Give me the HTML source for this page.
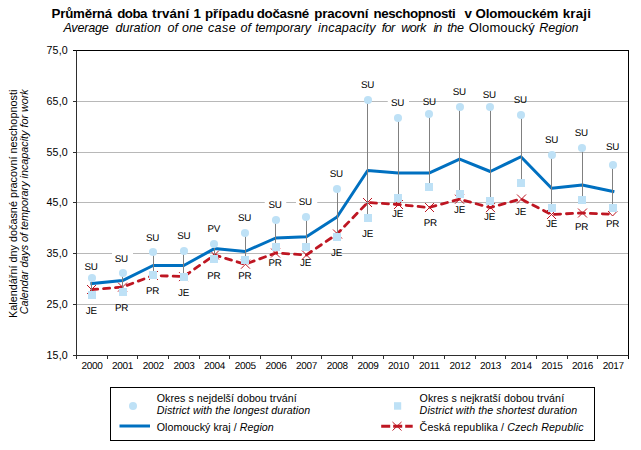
<!DOCTYPE html><html><head><meta charset="utf-8"><style>html,body{margin:0;padding:0;background:#fff}svg{display:block}text{font-family:"Liberation Sans",sans-serif;fill:#000}.g text{text-rendering:geometricPrecision}</style></head><body>
<svg width="641" height="450" viewBox="0 0 641 450">
<rect width="641" height="450" fill="#fff"/>
<text x="51.50" y="17.8" font-size="13.33" font-weight="bold" letter-spacing="-0.216">Průměrná</text>
<text x="117.30" y="17.8" font-size="13.33" font-weight="bold" letter-spacing="-0.575">doba</text>
<text x="152.10" y="17.8" font-size="13.33" font-weight="bold" letter-spacing="0.142">trvání</text>
<text x="193.60" y="17.8" font-size="13.33" font-weight="bold">1</text>
<text x="204.90" y="17.8" font-size="13.33" font-weight="bold" letter-spacing="0.062">případu</text>
<text x="256.70" y="17.8" font-size="13.33" font-weight="bold" letter-spacing="-0.260">dočasné</text>
<text x="314.20" y="17.8" font-size="13.33" font-weight="bold" letter-spacing="-0.178">pracovní</text>
<text x="373.60" y="17.8" font-size="13.33" font-weight="bold" letter-spacing="-0.412">neschopnosti</text>
<text x="464.50" y="17.8" font-size="13.33" font-weight="bold">v</text>
<text x="475.60" y="17.8" font-size="13.33" font-weight="bold" letter-spacing="-0.198">Olomouckém</text>
<text x="562.70" y="17.8" font-size="13.33" font-weight="bold" letter-spacing="0.221">kraji</text>
<text x="63.40" y="32.4" font-size="12.6" font-style="italic" letter-spacing="-0.229">Average</text>
<text x="115.40" y="32.4" font-size="12.6" font-style="italic">duration</text>
<text x="167.40" y="32.4" font-size="12.6" font-style="italic" letter-spacing="0.096">of</text>
<text x="182.10" y="32.4" font-size="12.6" font-style="italic">one</text>
<text x="207.90" y="32.4" font-size="12.6" font-style="italic" letter-spacing="0.434">case</text>
<text x="240.50" y="32.4" font-size="12.6" font-style="italic">of</text>
<text x="255.20" y="32.4" font-size="12.6" font-style="italic" letter-spacing="-0.099">temporary</text>
<text x="318.00" y="32.4" font-size="12.6" font-style="italic" letter-spacing="0.177">incapacity</text>
<text x="381.70" y="32.4" font-size="12.6" font-style="italic" letter-spacing="-0.601">for</text>
<text x="401.20" y="32.4" font-size="12.6" font-style="italic" letter-spacing="-0.531">work</text>
<text x="433.60" y="32.4" font-size="12.6" font-style="italic" letter-spacing="-1.198">in</text>
<text x="447.20" y="32.4" font-size="12.6" font-style="italic" letter-spacing="-0.351">the</text>
<text x="468.80" y="32.4" font-size="13.0" letter-spacing="0.123">Olomoucký</text>
<text x="539.30" y="32.4" font-size="12.6" font-style="italic" letter-spacing="-0.121">Region</text>
<line x1="76.5" y1="101.5" x2="628.5" y2="101.5" stroke="#b8b8b8" stroke-width="1"/>
<line x1="76.5" y1="152.5" x2="628.5" y2="152.5" stroke="#b8b8b8" stroke-width="1"/>
<line x1="76.5" y1="202.5" x2="628.5" y2="202.5" stroke="#b8b8b8" stroke-width="1"/>
<line x1="76.5" y1="253.5" x2="628.5" y2="253.5" stroke="#b8b8b8" stroke-width="1"/>
<line x1="76.5" y1="304.5" x2="628.5" y2="304.5" stroke="#b8b8b8" stroke-width="1"/>
<rect x="112" y="251.5" width="21" height="4" fill="#fff"/>
<rect x="264.75" y="200.5" width="21.5" height="4" fill="#fff"/>
<rect x="296" y="200.5" width="21.25" height="4" fill="#fff"/>
<rect x="387.75" y="99.5" width="21.25" height="4" fill="#fff"/>
<path d="M73.0 50.5H629.0M628.5 50.5V359.0" stroke="#000" stroke-width="1" fill="none"/>
<path d="M76.5 50.5V359.0M73.0 355.5H628.5" stroke="#2e2e2e" stroke-width="1" fill="none"/>
<line x1="73.0" y1="101.5" x2="76.5" y2="101.5" stroke="#2e2e2e" stroke-width="1"/>
<line x1="73.0" y1="152.5" x2="76.5" y2="152.5" stroke="#2e2e2e" stroke-width="1"/>
<line x1="73.0" y1="202.5" x2="76.5" y2="202.5" stroke="#2e2e2e" stroke-width="1"/>
<line x1="73.0" y1="253.5" x2="76.5" y2="253.5" stroke="#2e2e2e" stroke-width="1"/>
<line x1="73.0" y1="304.5" x2="76.5" y2="304.5" stroke="#2e2e2e" stroke-width="1"/>
<line x1="107.50" y1="355.5" x2="107.50" y2="359.0" stroke="#2e2e2e" stroke-width="1"/>
<line x1="137.50" y1="355.5" x2="137.50" y2="359.0" stroke="#2e2e2e" stroke-width="1"/>
<line x1="168.50" y1="355.5" x2="168.50" y2="359.0" stroke="#2e2e2e" stroke-width="1"/>
<line x1="199.50" y1="355.5" x2="199.50" y2="359.0" stroke="#2e2e2e" stroke-width="1"/>
<line x1="229.50" y1="355.5" x2="229.50" y2="359.0" stroke="#2e2e2e" stroke-width="1"/>
<line x1="260.50" y1="355.5" x2="260.50" y2="359.0" stroke="#2e2e2e" stroke-width="1"/>
<line x1="291.50" y1="355.5" x2="291.50" y2="359.0" stroke="#2e2e2e" stroke-width="1"/>
<line x1="321.50" y1="355.5" x2="321.50" y2="359.0" stroke="#2e2e2e" stroke-width="1"/>
<line x1="352.50" y1="355.5" x2="352.50" y2="359.0" stroke="#2e2e2e" stroke-width="1"/>
<line x1="383.50" y1="355.5" x2="383.50" y2="359.0" stroke="#2e2e2e" stroke-width="1"/>
<line x1="413.50" y1="355.5" x2="413.50" y2="359.0" stroke="#2e2e2e" stroke-width="1"/>
<line x1="444.50" y1="355.5" x2="444.50" y2="359.0" stroke="#2e2e2e" stroke-width="1"/>
<line x1="475.50" y1="355.5" x2="475.50" y2="359.0" stroke="#2e2e2e" stroke-width="1"/>
<line x1="505.50" y1="355.5" x2="505.50" y2="359.0" stroke="#2e2e2e" stroke-width="1"/>
<line x1="536.50" y1="355.5" x2="536.50" y2="359.0" stroke="#2e2e2e" stroke-width="1"/>
<line x1="567.50" y1="355.5" x2="567.50" y2="359.0" stroke="#2e2e2e" stroke-width="1"/>
<line x1="597.50" y1="355.5" x2="597.50" y2="359.0" stroke="#2e2e2e" stroke-width="1"/>
<text x="68" y="54.1" font-size="10.67" text-anchor="end" letter-spacing="0.2">75,0</text>
<text x="68" y="105.1" font-size="10.67" text-anchor="end" letter-spacing="0.2">65,0</text>
<text x="68" y="156.1" font-size="10.67" text-anchor="end" letter-spacing="0.2">55,0</text>
<text x="68" y="206.1" font-size="10.67" text-anchor="end" letter-spacing="0.2">45,0</text>
<text x="68" y="257.1" font-size="10.67" text-anchor="end" letter-spacing="0.2">35,0</text>
<text x="68" y="308.1" font-size="10.67" text-anchor="end" letter-spacing="0.2">25,0</text>
<text x="68" y="359.1" font-size="10.67" text-anchor="end" letter-spacing="0.2">15,0</text>
<g class="g">
<text x="91.93" y="369" font-size="10" letter-spacing="-0.3" text-anchor="middle">2000</text>
<text x="122.60" y="369" font-size="10" letter-spacing="-0.3" text-anchor="middle">2001</text>
<text x="153.27" y="369" font-size="10" letter-spacing="-0.3" text-anchor="middle">2002</text>
<text x="183.93" y="369" font-size="10" letter-spacing="-0.3" text-anchor="middle">2003</text>
<text x="214.60" y="369" font-size="10" letter-spacing="-0.3" text-anchor="middle">2004</text>
<text x="245.27" y="369" font-size="10" letter-spacing="-0.3" text-anchor="middle">2005</text>
<text x="275.93" y="369" font-size="10" letter-spacing="-0.3" text-anchor="middle">2006</text>
<text x="306.60" y="369" font-size="10" letter-spacing="-0.3" text-anchor="middle">2007</text>
<text x="337.27" y="369" font-size="10" letter-spacing="-0.3" text-anchor="middle">2008</text>
<text x="367.93" y="369" font-size="10" letter-spacing="-0.3" text-anchor="middle">2009</text>
<text x="398.60" y="369" font-size="10" letter-spacing="-0.3" text-anchor="middle">2010</text>
<text x="429.27" y="369" font-size="10" letter-spacing="-0.3" text-anchor="middle">2011</text>
<text x="459.93" y="369" font-size="10" letter-spacing="-0.3" text-anchor="middle">2012</text>
<text x="490.60" y="369" font-size="10" letter-spacing="-0.3" text-anchor="middle">2013</text>
<text x="521.27" y="369" font-size="10" letter-spacing="-0.3" text-anchor="middle">2014</text>
<text x="551.93" y="369" font-size="10" letter-spacing="-0.3" text-anchor="middle">2015</text>
<text x="582.60" y="369" font-size="10" letter-spacing="-0.3" text-anchor="middle">2016</text>
<text x="613.27" y="369" font-size="10" letter-spacing="-0.3" text-anchor="middle">2017</text>
</g>
<polyline points="91.83,289.5 122.47,287.1 153.12,275.5 183.77,276.6 214.43,255 245.07,264.2 275.72,253 306.38,255 337.02,234 367.67,202.5 398.32,204.5 428.97,207.5 459.62,199.2 490.27,207.6 520.92,199 551.58,214.5 582.23,213 612.88,214.25" fill="none" stroke="#be1622" stroke-width="2.8" stroke-dasharray="6.1 5.864" stroke-dashoffset="0.21" stroke-linecap="round" stroke-linejoin="round"/>
<path d="M87.00 285.0L96.00 294.0M87.00 294.0L96.00 285.0" stroke="#be1622" stroke-width="1" fill="none"/>
<path d="M118.00 282.6L127.00 291.6M118.00 291.6L127.00 282.6" stroke="#be1622" stroke-width="1" fill="none"/>
<path d="M149.00 271.0L158.00 280.0M149.00 280.0L158.00 271.0" stroke="#be1622" stroke-width="1" fill="none"/>
<path d="M179.00 272.1L188.00 281.1M179.00 281.1L188.00 272.1" stroke="#be1622" stroke-width="1" fill="none"/>
<path d="M210.00 250.5L219.00 259.5M210.00 259.5L219.00 250.5" stroke="#be1622" stroke-width="1" fill="none"/>
<path d="M241.00 259.7L250.00 268.7M241.00 268.7L250.00 259.7" stroke="#be1622" stroke-width="1" fill="none"/>
<path d="M271.00 248.5L280.00 257.5M271.00 257.5L280.00 248.5" stroke="#be1622" stroke-width="1" fill="none"/>
<path d="M302.00 250.5L311.00 259.5M302.00 259.5L311.00 250.5" stroke="#be1622" stroke-width="1" fill="none"/>
<path d="M333.00 229.5L342.00 238.5M333.00 238.5L342.00 229.5" stroke="#be1622" stroke-width="1" fill="none"/>
<path d="M363.00 198.0L372.00 207.0M363.00 207.0L372.00 198.0" stroke="#be1622" stroke-width="1" fill="none"/>
<path d="M394.00 200.0L403.00 209.0M394.00 209.0L403.00 200.0" stroke="#be1622" stroke-width="1" fill="none"/>
<path d="M425.00 203.0L434.00 212.0M425.00 212.0L434.00 203.0" stroke="#be1622" stroke-width="1" fill="none"/>
<path d="M455.00 194.7L464.00 203.7M455.00 203.7L464.00 194.7" stroke="#be1622" stroke-width="1" fill="none"/>
<path d="M486.00 203.1L495.00 212.1M486.00 212.1L495.00 203.1" stroke="#be1622" stroke-width="1" fill="none"/>
<path d="M517.00 194.5L526.00 203.5M517.00 203.5L526.00 194.5" stroke="#be1622" stroke-width="1" fill="none"/>
<path d="M547.00 210.0L556.00 219.0M547.00 219.0L556.00 210.0" stroke="#be1622" stroke-width="1" fill="none"/>
<path d="M578.00 208.5L587.00 217.5M578.00 217.5L587.00 208.5" stroke="#be1622" stroke-width="1" fill="none"/>
<polyline points="91.83,283.5 122.47,280.6 153.12,265.5 183.77,265.5 214.43,248.6 245.07,251.5 275.72,238 306.38,236.75 337.02,217 367.67,170.5 398.32,173.1 428.97,173.1 459.62,159.1 490.27,171.5 520.92,156.75 551.58,188.25 582.23,185 612.88,191.5" fill="none" stroke="#0070c0" stroke-width="3" stroke-linejoin="round" stroke-linecap="square"/>
<line x1="91.5" y1="278" x2="91.5" y2="295" stroke="#808080" stroke-width="1"/>
<line x1="122.5" y1="273" x2="122.5" y2="292" stroke="#808080" stroke-width="1"/>
<line x1="153.5" y1="252" x2="153.5" y2="275" stroke="#808080" stroke-width="1"/>
<line x1="183.5" y1="251" x2="183.5" y2="277" stroke="#808080" stroke-width="1"/>
<line x1="214.5" y1="244" x2="214.5" y2="259" stroke="#808080" stroke-width="1"/>
<line x1="245.5" y1="233" x2="245.5" y2="260" stroke="#808080" stroke-width="1"/>
<line x1="275.5" y1="220" x2="275.5" y2="247" stroke="#808080" stroke-width="1"/>
<line x1="306.5" y1="217" x2="306.5" y2="247" stroke="#808080" stroke-width="1"/>
<line x1="337.5" y1="189" x2="337.5" y2="237" stroke="#808080" stroke-width="1"/>
<line x1="367.5" y1="100" x2="367.5" y2="218" stroke="#808080" stroke-width="1"/>
<line x1="398.5" y1="118" x2="398.5" y2="198" stroke="#808080" stroke-width="1"/>
<line x1="429.5" y1="114" x2="429.5" y2="187" stroke="#808080" stroke-width="1"/>
<line x1="459.5" y1="107" x2="459.5" y2="194" stroke="#808080" stroke-width="1"/>
<line x1="490.5" y1="107" x2="490.5" y2="201" stroke="#808080" stroke-width="1"/>
<line x1="521.5" y1="115" x2="521.5" y2="183" stroke="#808080" stroke-width="1"/>
<line x1="551.5" y1="155" x2="551.5" y2="208" stroke="#808080" stroke-width="1"/>
<line x1="582.5" y1="148" x2="582.5" y2="200" stroke="#808080" stroke-width="1"/>
<line x1="612.5" y1="165" x2="612.5" y2="208" stroke="#808080" stroke-width="1"/>
<path d="M608.08 211L612.58 216L617.38 211" stroke="#be1622" stroke-width="1" fill="none"/>
<rect x="88.00" y="291" width="8" height="8" fill="#bee1f6"/>
<circle cx="92.00" cy="278" r="4.05" fill="#bee1f6"/>
<rect x="119.00" y="288" width="8" height="8" fill="#bee1f6"/>
<circle cx="123.00" cy="273" r="4.05" fill="#bee1f6"/>
<rect x="149.00" y="271" width="8" height="8" fill="#bee1f6"/>
<circle cx="153.00" cy="252" r="4.05" fill="#bee1f6"/>
<rect x="180.00" y="273" width="8" height="8" fill="#bee1f6"/>
<circle cx="184.00" cy="251" r="4.05" fill="#bee1f6"/>
<rect x="210.00" y="255" width="8" height="8" fill="#bee1f6"/>
<circle cx="214.00" cy="244" r="4.05" fill="#bee1f6"/>
<rect x="241.00" y="256" width="8" height="8" fill="#bee1f6"/>
<circle cx="245.00" cy="233" r="4.05" fill="#bee1f6"/>
<rect x="272.00" y="243" width="8" height="8" fill="#bee1f6"/>
<circle cx="276.00" cy="220" r="4.05" fill="#bee1f6"/>
<rect x="302.00" y="243" width="8" height="8" fill="#bee1f6"/>
<circle cx="306.00" cy="217" r="4.05" fill="#bee1f6"/>
<rect x="333.00" y="233" width="8" height="8" fill="#bee1f6"/>
<circle cx="337.00" cy="189" r="4.05" fill="#bee1f6"/>
<rect x="364.00" y="214" width="8" height="8" fill="#bee1f6"/>
<circle cx="368.00" cy="100" r="4.05" fill="#bee1f6"/>
<rect x="394.00" y="194" width="8" height="8" fill="#bee1f6"/>
<circle cx="398.00" cy="118" r="4.05" fill="#bee1f6"/>
<rect x="425.00" y="183" width="8" height="8" fill="#bee1f6"/>
<circle cx="429.00" cy="114" r="4.05" fill="#bee1f6"/>
<rect x="456.00" y="190" width="8" height="8" fill="#bee1f6"/>
<circle cx="460.00" cy="107" r="4.05" fill="#bee1f6"/>
<rect x="486.00" y="197" width="8" height="8" fill="#bee1f6"/>
<circle cx="490.00" cy="107" r="4.05" fill="#bee1f6"/>
<rect x="517.00" y="179" width="8" height="8" fill="#bee1f6"/>
<circle cx="521.00" cy="115" r="4.05" fill="#bee1f6"/>
<rect x="548.00" y="204" width="8" height="8" fill="#bee1f6"/>
<circle cx="552.00" cy="155" r="4.05" fill="#bee1f6"/>
<rect x="578.00" y="196" width="8" height="8" fill="#bee1f6"/>
<circle cx="582.00" cy="148" r="4.05" fill="#bee1f6"/>
<rect x="609.00" y="204" width="8" height="8" fill="#bee1f6"/>
<circle cx="613.00" cy="165" r="4.05" fill="#bee1f6"/>
<g class="g">
<text x="91" y="270.25" font-size="9.8" letter-spacing="-0.25" text-anchor="middle">SU</text>
<text x="121.25" y="262.25" font-size="9.8" letter-spacing="-0.25" text-anchor="middle">SU</text>
<text x="152.5" y="241.25" font-size="9.8" letter-spacing="-0.25" text-anchor="middle">SU</text>
<text x="183.75" y="239.0" font-size="9.8" letter-spacing="-0.25" text-anchor="middle">SU</text>
<text x="213.75" y="232.0" font-size="9.8" letter-spacing="-0.25" text-anchor="middle">PV</text>
<text x="244.5" y="220.8" font-size="9.8" letter-spacing="-0.25" text-anchor="middle">SU</text>
<text x="275" y="208.0" font-size="9.8" letter-spacing="-0.25" text-anchor="middle">SU</text>
<text x="305.25" y="205.0" font-size="9.8" letter-spacing="-0.25" text-anchor="middle">SU</text>
<text x="336.25" y="177.0" font-size="9.8" letter-spacing="-0.25" text-anchor="middle">SU</text>
<text x="367.55" y="88.0" font-size="9.8" letter-spacing="-0.25" text-anchor="middle">SU</text>
<text x="397.6" y="106.0" font-size="9.8" letter-spacing="-0.25" text-anchor="middle">SU</text>
<text x="429.25" y="105.0" font-size="9.8" letter-spacing="-0.25" text-anchor="middle">SU</text>
<text x="459.25" y="95.25" font-size="9.8" letter-spacing="-0.25" text-anchor="middle">SU</text>
<text x="489.25" y="98.0" font-size="9.8" letter-spacing="-0.25" text-anchor="middle">SU</text>
<text x="520.25" y="103.25" font-size="9.8" letter-spacing="-0.25" text-anchor="middle">SU</text>
<text x="551.5" y="143.0" font-size="9.8" letter-spacing="-0.25" text-anchor="middle">SU</text>
<text x="581.25" y="136.0" font-size="9.8" letter-spacing="-0.25" text-anchor="middle">SU</text>
<text x="612.5" y="150.1" font-size="9.8" letter-spacing="-0.25" text-anchor="middle">SU</text>
<text x="91.25" y="314.25" font-size="9.8" letter-spacing="-0.25" text-anchor="middle">JE</text>
<text x="121.6" y="310.5" font-size="9.8" letter-spacing="-0.25" text-anchor="middle">PR</text>
<text x="152.5" y="294.0" font-size="9.8" letter-spacing="-0.25" text-anchor="middle">PR</text>
<text x="183.5" y="295.9" font-size="9.8" letter-spacing="-0.25" text-anchor="middle">JE</text>
<text x="213.75" y="279.25" font-size="9.8" letter-spacing="-0.25" text-anchor="middle">PR</text>
<text x="244.7" y="278.5" font-size="9.8" letter-spacing="-0.25" text-anchor="middle">PR</text>
<text x="275" y="266.25" font-size="9.8" letter-spacing="-0.25" text-anchor="middle">PR</text>
<text x="305.5" y="266.25" font-size="9.8" letter-spacing="-0.25" text-anchor="middle">JE</text>
<text x="336.5" y="256.0" font-size="9.8" letter-spacing="-0.25" text-anchor="middle">JE</text>
<text x="367.5" y="236.7" font-size="9.8" letter-spacing="-0.25" text-anchor="middle">JE</text>
<text x="397.5" y="217.0" font-size="9.8" letter-spacing="-0.25" text-anchor="middle">JE</text>
<text x="430.25" y="226.0" font-size="9.8" letter-spacing="-0.25" text-anchor="middle">PR</text>
<text x="459.5" y="213.25" font-size="9.8" letter-spacing="-0.25" text-anchor="middle">JE</text>
<text x="489.5" y="219.75" font-size="9.8" letter-spacing="-0.25" text-anchor="middle">JE</text>
<text x="520.5" y="215.25" font-size="9.8" letter-spacing="-0.25" text-anchor="middle">JE</text>
<text x="551.5" y="226.75" font-size="9.8" letter-spacing="-0.25" text-anchor="middle">JE</text>
<text x="581.5" y="230.25" font-size="9.8" letter-spacing="-0.25" text-anchor="middle">PR</text>
<text x="612.5" y="226.75" font-size="9.8" letter-spacing="-0.25" text-anchor="middle">PR</text>
</g>
<text transform="translate(16.6,203.8) rotate(-90)" font-size="11.7" text-anchor="middle" textLength="228.2" lengthAdjust="spacingAndGlyphs">Kalendářní dny dočasné pracovní neschopnosti</text>
<text transform="translate(27.9,201.8) rotate(-90)" font-size="11.3" font-style="italic" text-anchor="middle" textLength="225" lengthAdjust="spacingAndGlyphs">Calendar days of temporary incapacity for work</text>
<rect x="110.5" y="387.5" width="484" height="53" fill="#fff" stroke="#000" stroke-width="1"/>
<circle cx="133" cy="406" r="4" fill="#bee1f6"/>
<line x1="119.5" y1="426" x2="150" y2="426" stroke="#0070c0" stroke-width="3"/>
<rect x="394" y="402.2" width="7.2" height="7.5" fill="#bee1f6"/>
<line x1="381.2" y1="426.2" x2="412.7" y2="426.2" stroke="#be1622" stroke-width="3" stroke-dasharray="9 3"/>
<path d="M392.5 422L401.5 430.5M392.5 430.5L401.5 422" stroke="#be1622" stroke-width="1" fill="none"/>
<text x="156.75" y="401.75" font-size="10.67" textLength="140" lengthAdjust="spacing">Okres s nejdelší dobou trvání</text>
<text x="156.75" y="413.75" font-size="10.67" font-style="italic" textLength="153.5" lengthAdjust="spacing">District with the longest duration</text>
<text x="156.75" y="430.75" font-size="10.67" textLength="117" lengthAdjust="spacing">Olomoucký kraj / <tspan font-style="italic">Region</tspan></text>
<text x="419.6" y="401.75" font-size="10.67" textLength="144.5" lengthAdjust="spacing">Okres s nejkratší dobou trvání</text>
<text x="419.6" y="413.75" font-size="10.67" font-style="italic" textLength="157.5" lengthAdjust="spacing">District with the shortest duration</text>
<text x="419.6" y="430.75" font-size="10.67" textLength="164" lengthAdjust="spacing">Česká republika / <tspan font-style="italic">Czech Republic</tspan></text>
</svg></body></html>
